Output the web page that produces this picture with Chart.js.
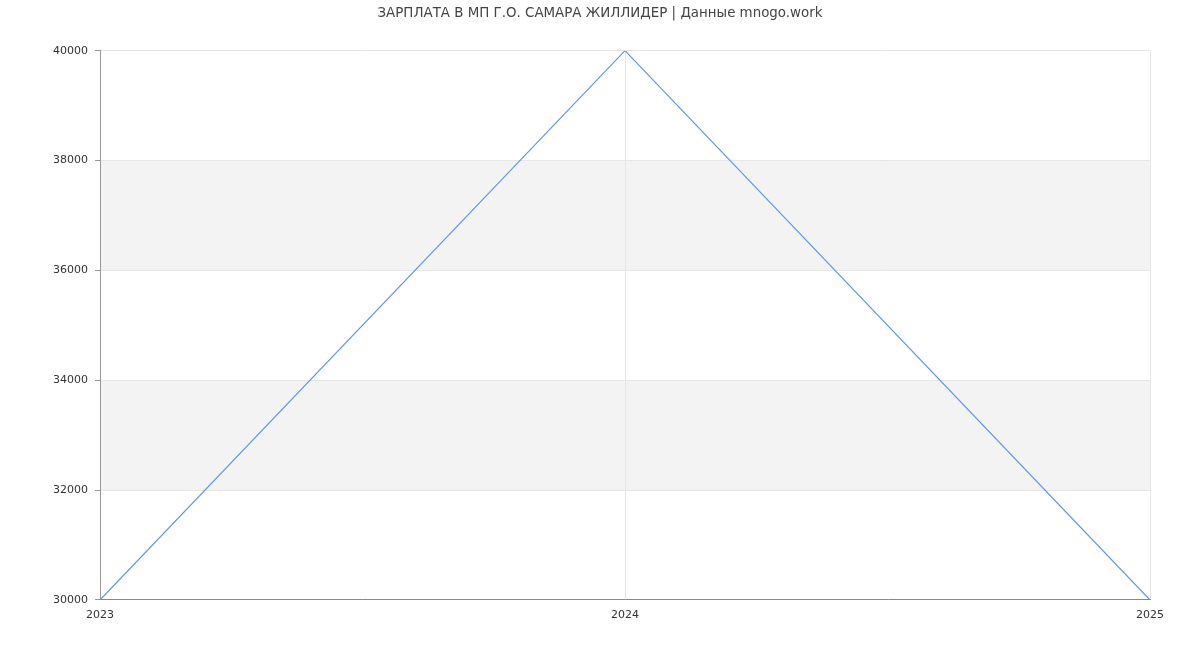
<!DOCTYPE html>
<html>
<head>
<meta charset="utf-8">
<script src="https://cdn.jsdelivr.net/npm/chart.js@4"></script>
<style>
  html, body { margin: 0; padding: 0; background: #fff; }
  #wrap { width: 1200px; height: 650px; }
</style>
</head>
<body>
<div id="wrap"><canvas id="myChart"></canvas></div>
<script>
const years = ['2023', '2024', '2025']
const salary = [30000, 40000, 30000]
const yMin = 30000
const yMax = 40000
const yStep = 2000

// gray bands on every other tick interval
const bandsPlugin = {
  id: 'bands',
  beforeDraw(chart) {
    const { ctx, chartArea, scales } = chart
    const ticks = scales.y.ticks
    ctx.save()
    ctx.fillStyle = '#f3f3f3'
    for (let i = 1; i < ticks.length - 1; i += 2) {
      const y1 = scales.y.getPixelForValue(ticks[i].value)
      const y2 = scales.y.getPixelForValue(ticks[i + 1].value)
      ctx.fillRect(chartArea.left, y2, chartArea.right - chartArea.left, y1 - y2)
    }
    ctx.restore()
  }
}

Chart.defaults.font.family = '"DejaVu Sans", sans-serif'

var ctx = document.getElementById('myChart').getContext('2d');
var myChart = new Chart(ctx, {
  type: 'line',
  data: {
    labels: years,
    datasets: [{
      label: 'Зарплата',
      data: salary,
      borderColor: 'rgb(100, 149, 237)',
      backgroundColor: 'rgb(100, 149, 237)',
      borderWidth: 1.2,
      pointRadius: 0,
      tension: 0,
      fill: false
    }]
  },
  options: {
    responsive: true,
    maintainAspectRatio: false,
    animation: false,
    layout: { padding: { left: 50, right: 50, top: 0, bottom: 0 } },
    plugins: {
      legend: { display: false },
      tooltip: { enabled: false },
      title: {
        display: true,
        text: 'ЗАРПЛАТА В МП Г.О. САМАРА ЖИЛЛИДЕР | Данные mnogo.work',
        color: '#444',
        font: { size: 13.4, weight: 'normal' },
        padding: { top: 5, bottom: 29.6 }
      }
    },
    scales: {
      x: {
        offset: false,
        grid: { color: '#e6e6e6', drawTicks: false },
        border: { color: '#888' },
        ticks: { color: '#333', font: { size: 11 }, padding: 9, maxRotation: 0 },
        afterFit(scale) { scale.height = 50 }
      },
      y: {
        min: yMin,
        max: yMax,
        grid: { color: '#e6e6e6', tickColor: '#999', tickLength: 5 },
        border: { color: '#999' },
        ticks: {
          stepSize: yStep, color: '#333', font: { size: 11 }, padding: 7,
          callback: v => String(v)
        },
        afterFit(scale) { scale.width = 50 }
      }
    }
  },
  plugins: [bandsPlugin]
});
</script>
</body>
</html>
